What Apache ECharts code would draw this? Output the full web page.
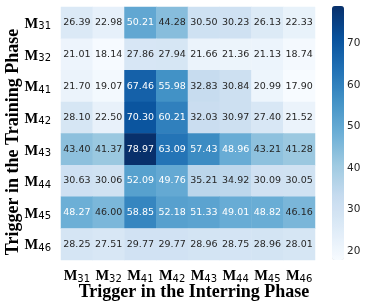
<!DOCTYPE html>
<html>
<head>
<meta charset="utf-8">
<script src="https://cdn.jsdelivr.net/npm/echarts@6/dist/echarts.min.js"></script>
<style>html,body{margin:0;padding:0;background:#fff;}#c{width:374px;height:308px;}</style>
</head>
<body>
<div id="c"></div>
<script>
const colLabels = ['M31','M32','M41','M42','M43','M44','M45','M46'];
const rowLabels = ['M31','M32','M41','M42','M43','M44','M45','M46'];
const rowM31 = [26.39, 22.98, 50.21, 44.28, 30.50, 30.23, 26.13, 22.33];
const rowM32 = [21.01, 18.14, 27.86, 27.94, 21.66, 21.36, 21.13, 18.74];
const rowM41 = [21.70, 19.07, 67.46, 55.98, 32.83, 30.84, 20.99, 17.90];
const rowM42 = [28.10, 22.50, 70.30, 60.21, 32.03, 30.97, 27.40, 21.52];
const rowM43 = [43.40, 41.37, 78.97, 63.09, 57.43, 48.96, 43.21, 41.28];
const rowM44 = [30.63, 30.06, 52.09, 49.76, 35.21, 34.92, 30.09, 30.05];
const rowM45 = [48.27, 46.00, 58.85, 52.18, 51.33, 49.01, 48.82, 46.16];
const rowM46 = [28.25, 27.51, 29.77, 29.77, 28.96, 28.75, 28.96, 28.01];
const colorbarTicks = [20, 30, 40, 50, 60, 70];

const rows = [rowM31, rowM32, rowM41, rowM42, rowM43, rowM44, rowM45, rowM46];
const vmin = Math.min(...rows.flat());
const vmax = Math.max(...rows.flat());

const data = [];
rows.forEach((r, yi) => r.forEach((v, xi) => {
  data.push({value: [xi, yi, v], label: {color: v > 47 ? '#ffffff' : '#262626'}});
}));

const subFmt = s => '{m|M}{s|' + s.slice(1) + '}';
const richLab = {
  m: {fontFamily: 'Liberation Serif', fontWeight: 'bold', fontSize: 14.5, color: '#000', lineHeight: 18, verticalAlign: 'bottom'},
  s: {fontFamily: 'DejaVu Sans', fontSize: 10, color: '#000', lineHeight: 11, verticalAlign: 'bottom'}
};

const blues = ['#f7fbff','#deebf7','#c6dbef','#9ecae1','#6baed6','#4292c6','#2171b5','#08519c','#08306b'];

const chart = echarts.init(document.getElementById('c'), null, {renderer: 'canvas'});
chart.setOption({
  animation: false,
  backgroundColor: '#ffffff',
  grid: [
    {left: 61, top: 7, width: 254, height: 253},
    {left: 332, top: 6, width: 12, height: 254}
  ],
  xAxis: [
    {type: 'category', data: colLabels, gridIndex: 0, axisLine: {show: false}, axisTick: {show: false},
     axisLabel: {interval: 0, formatter: subFmt, rich: richLab, margin: 6}, splitLine: {show: false}},
    {type: 'value', gridIndex: 1, show: false, min: 0, max: 1}
  ],
  yAxis: [
    {type: 'category', data: rowLabels, inverse: true, gridIndex: 0, axisLine: {show: false}, axisTick: {show: false},
     axisLabel: {interval: 0, formatter: subFmt, rich: richLab, margin: 10}, splitLine: {show: false}},
    {type: 'value', gridIndex: 1, position: 'right', min: vmin, max: vmax,
     axisLine: {show: false}, splitLine: {show: false},
     axisTick: {show: true, length: 4, lineStyle: {color: '#262626', width: 1}, customValues: colorbarTicks},
     axisLabel: {show: true, color: '#262626', fontFamily: 'DejaVu Sans', fontSize: 10.5, margin: 3, customValues: colorbarTicks}}
  ],
  visualMap: {
    type: 'continuous', min: vmin, max: vmax, calculable: false, show: true,
    left: 332, top: 6, itemWidth: 12, itemHeight: 254, padding: 0, text: ['', ''], showLabel: false,
    seriesIndex: 0, inRange: {color: blues}, hoverLink: false
  },
  graphic: [
    {type: 'text', x: 13, y: 142, rotation: Math.PI / 2,
     style: {text: 'Trigger in the Training Phase', align: 'center', verticalAlign: 'middle',
             font: 'bold 18px "Liberation Serif"', fill: '#000'}},
    {type: 'text', x: 194, y: 292,
     style: {text: 'Trigger in the Interring Phase', align: 'center', verticalAlign: 'middle',
             font: 'bold 18px "Liberation Serif"', fill: '#000'}}
  ],
  series: [
    {type: 'heatmap', xAxisIndex: 0, yAxisIndex: 0, data: data,
     itemStyle: {borderWidth: 0},
     label: {show: true, fontFamily: 'DejaVu Sans', fontSize: 9.5, formatter: p => p.value[2].toFixed(2)}},
    {type: 'scatter', xAxisIndex: 1, yAxisIndex: 1, data: [], silent: true}
  ]
});
</script>
</body>
</html>
